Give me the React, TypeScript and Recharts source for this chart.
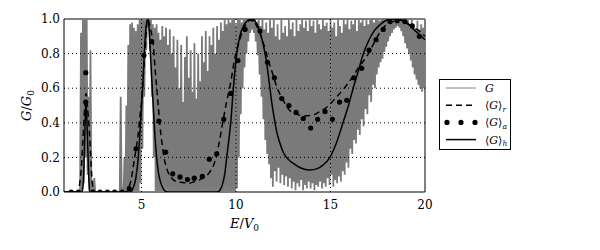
import React from "react";
import {
  ComposedChart,
  Line,
  XAxis,
  YAxis,
  ReferenceLine,
  ReferenceArea,
} from "recharts";

// G sampled on a regular energy grid: upper / lower envelope of the fast oscillation
const energyStart = 0.9;
const energyStep = 0.1;
const gUpper = [
  0, 0, 0, 0, 0, 0, 0, 0, 0, 0.92,
  1, 1, 1, 0.55, 0.82, 0.06, 0.08, 0, 0, 0,
  0, 0, 0, 0, 0, 0, 0, 0, 0, 0,
  0.55, 0.03, 0.2, 0.5, 0.85, 0.97, 0.98, 0.95, 0.93, 0.97,
  1, 1, 1, 1, 1, 1, 1, 0.97, 0.95, 0.97,
  0.92, 0.88, 0.96, 0.9, 0.95, 0.85, 0.94, 0.8, 0.9, 0.72,
  0.88, 0.6, 0.85, 0.52, 0.78, 0.9, 0.66, 0.82, 0.58, 0.86,
  0.54, 0.8, 0.64, 0.9, 0.75, 0.93, 0.7, 0.9, 0.85, 0.95,
  0.8, 0.96, 0.88, 0.98, 0.93, 1, 0.97, 1, 0.98, 1,
  1, 0.97, 1, 1, 0.98, 1, 1, 1, 1, 1,
  1, 1, 0.98, 1, 0.96, 1, 0.94, 0.98, 0.92, 1,
  0.95, 1, 0.9, 0.97, 0.88, 1, 0.92, 0.96, 0.9, 1,
  0.94, 0.98, 0.9, 1, 0.93, 0.97, 1, 0.95, 0.99, 0.93,
  1, 0.96, 0.99, 0.92, 1, 0.97, 0.94, 1, 0.96, 0.98,
  0.93, 1, 0.95, 0.98, 0.9, 1, 0.96, 0.92, 1, 0.97,
  1, 0.94, 0.99, 0.97, 1, 0.93, 1, 0.98, 1, 0.96,
  1, 0.97, 1, 1, 0.98, 1, 1, 0.99, 1, 1,
  1, 1, 1, 1, 1, 1, 1, 1, 1, 1,
  1, 0.98, 1, 0.95, 1, 0.97, 0.93, 0.99, 0.94, 0.97,
  0.95, 1,
];
const gLower = [
  0, 0, 0, 0, 0, 0, 0, 0, 0, 0,
  0.05, 0.2, 0.1, 0, 0, 0, 0, 0, 0, 0,
  0, 0, 0, 0, 0, 0, 0, 0, 0, 0,
  0, 0, 0, 0, 0, 0, 0, 0, 0, 0,
  0.05, 0.25, 0.55, 0.82, 0.95, 0.82, 0.55, 0.2, 0, 0,
  0, 0, 0, 0, 0, 0, 0, 0, 0, 0,
  0, 0, 0, 0, 0, 0, 0, 0, 0, 0,
  0, 0, 0, 0, 0, 0, 0, 0, 0, 0,
  0, 0, 0, 0, 0, 0, 0, 0, 0, 0,
  0, 0.02, 0.2, 0.45, 0.6, 0.72, 0.8, 0.87, 0.92, 0.94,
  0.92, 0.87, 0.79, 0.68, 0.55, 0.42, 0.3, 0.22, 0.16, 0.08,
  0.03, 0.12, 0.06, 0.14, 0.05, 0.1, 0.04, 0.09, 0.03, 0.08,
  0.02, 0.06, 0.01, 0.05, 0.03, 0.07, 0.01, 0.04, 0.02, 0.06,
  0.02, 0.05, 0.01, 0.04, 0.03, 0.06, 0.02, 0.05, 0.03, 0.08,
  0.04, 0.1, 0.03, 0.07, 0.05, 0.09, 0.06, 0.12, 0.1, 0.17,
  0.14, 0.25, 0.22, 0.3, 0.28, 0.36, 0.33, 0.42, 0.38, 0.48,
  0.45, 0.56, 0.52, 0.62, 0.6, 0.68, 0.72, 0.75, 0.77, 0.81,
  0.84, 0.87, 0.9, 0.92, 0.94, 0.95, 0.96, 0.95, 0.93, 0.9,
  0.86, 0.83, 0.8, 0.76, 0.72, 0.68, 0.65, 0.62, 0.6, 0.58,
  0.6, 0.6,
];

// <G>_r (dashed)
const rEnergy = [
  0.9, 1.6, 1.7, 1.8, 1.9, 2.0, 2.06, 2.15, 2.28, 2.35, 2.42, 2.5,
  4.2, 4.3, 4.45, 4.57, 4.7, 4.83, 4.92, 5.01, 5.1, 5.19, 5.27, 5.33,
  5.42, 5.52, 5.62, 5.7, 5.8, 5.9, 5.98, 6.1, 6.19, 6.3, 6.42, 6.6,
  6.86, 7.2, 7.46, 7.8, 8.25, 8.5, 8.7, 8.8, 8.94, 9.1, 9.33, 9.5,
  9.68, 9.95, 10.2, 10.39, 10.6, 10.85, 11.0, 11.18, 11.45, 11.71, 11.95, 12.15,
  12.5, 12.86, 13.2, 13.6, 14.09, 14.5, 14.8, 15.33, 15.8, 16.2, 16.55, 16.9,
  17.25, 17.6, 18.0, 18.3, 18.6, 19.0, 19.4, 19.7, 20.0,
];
const rValue = [
  0, 0, 0.03, 0.12, 0.3, 0.5, 0.57, 0.48, 0.28, 0.12, 0.03, 0,
  0, 0.02, 0.07, 0.15, 0.24, 0.34, 0.44, 0.53, 0.68, 0.82, 0.96, 1.0,
  0.97, 0.92, 0.86, 0.74, 0.61, 0.48, 0.38, 0.27, 0.2, 0.15, 0.11, 0.08,
  0.06, 0.055, 0.05, 0.06, 0.08, 0.1, 0.13, 0.15, 0.2, 0.28, 0.42, 0.52,
  0.61, 0.78, 0.88, 0.94, 0.98, 1.0, 0.98, 0.94, 0.86, 0.76, 0.68, 0.61,
  0.53, 0.47, 0.45, 0.44, 0.445, 0.47, 0.49, 0.55, 0.61, 0.67, 0.73, 0.78,
  0.85, 0.92, 0.97, 0.985, 1.0, 0.98, 0.95, 0.93, 0.9,
];

// <G>_a (dots)
const aEnergy = [
  1.28, 1.66, 2.05, 2.05, 2.43, 2.81, 3.2, 3.58, 3.97, 4.35, 4.71, 5.13,
  5.54, 5.92, 6.28, 6.65, 7.04, 7.43, 7.79, 8.22, 8.59, 8.98, 9.35, 9.73,
  10.1, 10.48, 10.87, 11.27, 11.67, 12.03, 12.42, 12.8, 13.18, 13.56, 13.95, 14.32,
  14.71, 15.1, 15.48, 15.86, 16.24, 16.65, 17.04, 17.41, 17.79, 18.15, 18.53, 18.94,
  19.32, 19.7,
];
const aValue = [
  0, 0, 0.69, 0.52, 0, 0, 0, 0, 0, 0.02, 0.25, 0.79,
  0.87, 0.41, 0.23, 0.105, 0.087, 0.072, 0.08, 0.09, 0.19, 0.22, 0.42, 0.57,
  0.76, 0.94, 1.0, 0.93, 0.75, 0.66, 0.54, 0.5, 0.46, 0.425, 0.37, 0.42,
  0.465, 0.42, 0.52, 0.53, 0.66, 0.715, 0.82, 0.88, 0.94, 0.985, 0.99, 0.985,
  0.96, 0.9,
];

// <G>_h (solid)
const hEnergy = [
  0.9, 1.85, 1.92, 1.98, 2.03, 2.06, 2.1, 2.16, 2.22, 2.26,
  4.4, 4.55, 4.7, 4.83, 4.95, 5.06, 5.14, 5.22, 5.33, 5.4, 5.48, 5.57,
  5.68, 5.8, 5.9, 6.0, 6.1, 6.2, 6.4, 9.0, 9.15, 9.3, 9.4, 9.51,
  9.62, 9.72, 9.86, 10.04, 10.2, 10.4, 10.6, 10.8, 11.0, 11.2, 11.4, 11.62,
  11.75, 11.89, 12.02, 12.15, 12.3, 12.5, 12.75, 13.03, 13.4, 13.92, 14.3, 14.6,
  14.97, 15.3, 15.66, 15.95, 16.2, 16.5, 16.74, 17.0, 17.3, 17.6, 17.9, 18.2,
  18.5, 18.8, 19.1, 19.4, 19.7, 20.0,
];
const hValue = [
  0, 0, 0.05, 0.25, 0.45, 0.52, 0.45, 0.25, 0.06, 0,
  0, 0.02, 0.08, 0.2, 0.4, 0.6, 0.78, 0.93, 1.0, 0.95, 0.78, 0.6,
  0.38, 0.2, 0.11, 0.06, 0.03, 0.01, 0, 0, 0.01, 0.05, 0.1, 0.2,
  0.3, 0.4, 0.6, 0.8, 0.9, 0.96, 0.99, 1.0, 0.99, 0.95, 0.87, 0.75,
  0.64, 0.52, 0.43, 0.35, 0.29, 0.23, 0.19, 0.166, 0.14, 0.127, 0.135, 0.155,
  0.2, 0.28, 0.4, 0.5, 0.6, 0.71, 0.8, 0.87, 0.93, 0.965, 0.99, 1.0,
  1.0, 0.99, 0.97, 0.94, 0.91, 0.88,
];

const xTicks = [5, 10, 15, 20];
const yTicks = [0, 0.2, 0.4, 0.6, 0.8, 1.0];
const xGrid = [5, 10, 15];
const yGrid = [0.2, 0.4, 0.6, 0.8];

const gData = gUpper.flatMap((u, i) => [
  { E: +(energyStart + energyStep * i).toFixed(3), v: u },
  { E: +(energyStart + energyStep * (i + 0.5)).toFixed(3), v: gLower[i] },
]);
const toPoints = (es: number[], vs: number[]) => es.map((E, i) => ({ E, v: vs[i] }));
const rData = toPoints(rEnergy, rValue);
const aData = toPoints(aEnergy, aValue);
const hData = toPoints(hEnergy, hValue);

const FONT = "DejaVu Serif";

const XLabel = (props: any) => {
  const { viewBox } = props;
  return (
    <text
      x={viewBox.x + viewBox.width / 2}
      y={viewBox.y + 36}
      textAnchor="middle"
      fontFamily={FONT}
      fontSize={13}
      fill="#000"
    >
      <tspan fontStyle="italic">E</tspan>
      <tspan>/</tspan>
      <tspan fontStyle="italic">V</tspan>
      <tspan fontSize={9} dy={3}>0</tspan>
    </text>
  );
};

const YLabel = (props: any) => {
  const { viewBox } = props;
  const cx = 31;
  const cy = viewBox.y + viewBox.height / 2;
  return (
    <text
      x={cx}
      y={cy}
      transform={`rotate(-90, ${cx}, ${cy})`}
      textAnchor="middle"
      fontFamily={FONT}
      fontSize={13}
      fill="#000"
    >
      <tspan fontStyle="italic">G</tspan>
      <tspan>/</tspan>
      <tspan fontStyle="italic">G</tspan>
      <tspan fontSize={9} dy={3}>0</tspan>
    </text>
  );
};

const legendItems = [
  { key: "G", sub: "" },
  { key: "r", sub: "r" },
  { key: "a", sub: "a" },
  { key: "h", sub: "h" },
];

function LegendBox() {
  return (
    <div
      style={{
        position: "absolute",
        left: 439,
        top: 79,
        width: 70,
        height: 69,
        border: "1px solid #000",
        background: "#fff",
      }}
    >
      <svg width={70} height={69}>
        {legendItems.map((item, i) => {
          const y = 8 + i * 17.2;
          let sample: React.ReactNode;
          if (item.key === "G") {
            sample = <line x1={6} x2={36} y1={y} y2={y} stroke="#808080" strokeWidth={1} />;
          } else if (item.key === "r") {
            sample = (
              <line x1={6} x2={36} y1={y} y2={y} stroke="#000" strokeWidth={1.5} strokeDasharray="6 4" />
            );
          } else if (item.key === "a") {
            sample = (
              <g>
                {[7, 21, 35].map((cx) => (
                  <circle key={cx} cx={cx} cy={y} r={2.6} fill="#000" />
                ))}
              </g>
            );
          } else {
            sample = <line x1={6} x2={36} y1={y} y2={y} stroke="#000" strokeWidth={1.5} />;
          }
          return (
            <g key={item.key}>
              {sample}
              <text x={45} y={y + 4} fontFamily={FONT} fontSize={11} fill="#000">
                {item.sub === "" ? (
                  <tspan fontStyle="italic">G</tspan>
                ) : (
                  <>
                    <tspan>⟨</tspan>
                    <tspan fontStyle="italic">G</tspan>
                    <tspan>⟩</tspan>
                    <tspan fontStyle="italic" fontSize={7.5} dy={2.5}>
                      {item.sub}
                    </tspan>
                  </>
                )}
              </text>
            </g>
          );
        })}
      </svg>
    </div>
  );
}

export default function App() {
  return (
    <div style={{ position: "absolute", left: 0, top: 0, width: 600, height: 250, background: "#fff" }}>
      <ComposedChart width={600} height={250} margin={{ top: 19, right: 175, bottom: 18, left: 0 }}>
        <XAxis
          dataKey="E"
          type="number"
          domain={[0.9, 20]}
          ticks={xTicks}
          allowDataOverflow
          axisLine={false}
          tickLine={false}
          tickSize={0}
          tickMargin={8}
          height={40}
          tick={{ fill: "#000", fontSize: 12, fontFamily: FONT }}
          label={<XLabel />}
        />
        <YAxis
          type="number"
          domain={[0, 1]}
          ticks={yTicks}
          allowDataOverflow
          axisLine={false}
          tickLine={false}
          tickSize={0}
          tickMargin={4}
          width={64}
          tickFormatter={(v: number) => v.toFixed(1)}
          tick={{ fill: "#000", fontSize: 12, fontFamily: FONT }}
          label={<YLabel />}
        />
        <Line
          data={gData}
          dataKey="v"
          type="linear"
          stroke="#7a7a7a"
          strokeWidth={1.8}
          strokeLinejoin="miter"
          dot={false}
          activeDot={false}
          isAnimationActive={false}
        />
        <Line
          data={rData}
          dataKey="v"
          type="monotone"
          stroke="#000"
          strokeWidth={1.5}
          strokeDasharray="6 4"
          dot={false}
          activeDot={false}
          isAnimationActive={false}
        />
        <Line
          data={hData}
          dataKey="v"
          type="monotone"
          stroke="#000"
          strokeWidth={1.5}
          dot={false}
          activeDot={false}
          isAnimationActive={false}
        />
        <Line
          data={aData}
          dataKey="v"
          type="linear"
          stroke="none"
          dot={{ r: 2.6, fill: "#000", stroke: "none" }}
          activeDot={false}
          isAnimationActive={false}
        />
        {yGrid.map((y) => (
          <ReferenceLine key={`y${y}`} y={y} stroke="#000" strokeWidth={1} strokeDasharray="1 3" />
        ))}
        {xGrid.map((x) => (
          <ReferenceLine key={`x${x}`} x={x} stroke="#000" strokeWidth={1} strokeDasharray="1 3" />
        ))}
        <ReferenceArea x1={0.9} x2={20} y1={0} y2={1} fill="none" stroke="#000" strokeWidth={1} />
      </ComposedChart>
      <LegendBox />
    </div>
  );
}
